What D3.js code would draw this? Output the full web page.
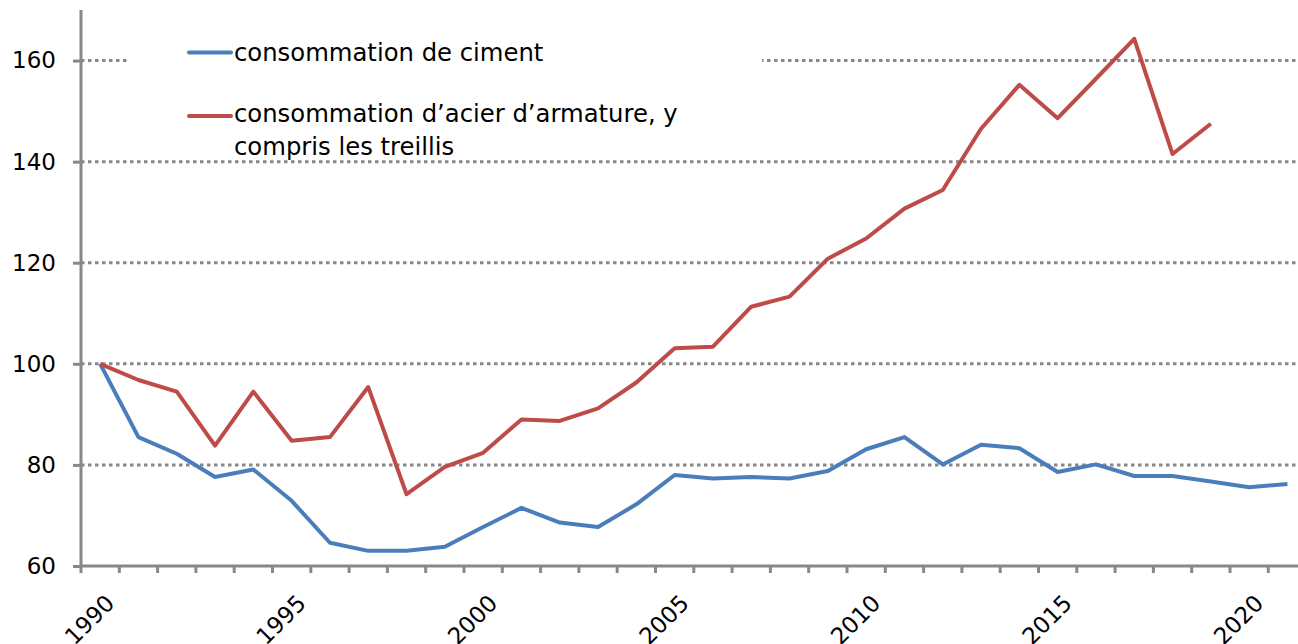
<!DOCTYPE html>
<html>
<head>
<meta charset="utf-8">
<script src="https://cdn.jsdelivr.net/npm/d3@7"></script>
<style>
  body { margin: 0; background: #fff; }
  svg { display: block; font-family: "DejaVu Sans", Verdana, sans-serif; }
</style>
</head>
<body>
<div id="chart"></div>
<script>
// years on the category axis
const years = d3.range(1990, 2022)
const labelYears = [1990, 1995, 2000, 2005, 2010, 2015, 2020]
const yTicks = [60, 80, 100, 120, 140, 160]

// index 1990 = 100
const ciment = [100, 85.5, 82.2, 77.6, 79.1, 72.9, 64.6, 63.0, 63.0, 63.8,
    67.7, 71.5, 68.6, 67.7, 72.2, 78.0, 77.3, 77.6, 77.3, 78.8,
    83.1, 85.5, 80.1, 84.0, 83.3, 78.6, 80.1, 77.8, 77.8, 76.7,
    75.6, 76.2]
const acier = [100, 96.8, 94.5, 83.8, 94.5, 84.8, 85.5, 95.4, 74.2, 79.6,
    82.4, 89.0, 88.7, 91.2, 96.3, 103.1, 103.4, 111.3, 113.3, 120.8,
    124.8, 130.7, 134.4, 146.5, 155.2, 148.6, 156.4, 164.3, 141.5, 147.5,
    null, null]

const seriesNames = ['consommation de ciment', 'consommation d\u2019acier d\u2019armature, y', 'compris les treillis']
const colors = { ciment: '#4a7ebb', acier: '#be4b48' }

let fullWidth = 1298
let fullHeight = 644
var margin = { top: 10, left: 81, bottom: 78 }
const font = '"DejaVu Sans", Verdana, sans-serif'

var svg = d3.select('#chart')
    .append('svg')
    .attr('width', fullWidth)
    .attr('height', fullHeight)

var x = d3.scaleBand()
    .domain(years)
    .range([margin.left, margin.left + years.length * 38.3])

var y = d3.scaleLinear()
    .domain([60, 170])
    .range([fullHeight - margin.bottom, margin.top])

const axisColor = '#888'

// dotted gridlines
svg.append('g')
    .selectAll('line')
    .data(yTicks.filter(d => d > 60))
    .enter()
    .append('line')
    .attr('x1', margin.left)
    .attr('x2', fullWidth)
    .attr('y1', d => y(d))
    .attr('y2', d => y(d))
    .attr('stroke', axisColor)
    .attr('stroke-width', 3)
    .attr('stroke-dasharray', '3.5,3.5')

// y axis
var yAxis = svg.append('g')
    .attr('transform', 'translate(' + margin.left + ',0)')
    .call(d3.axisLeft(y).tickValues(yTicks).tickSize(8).tickPadding(17))
    .attr('font-family', font)
    .attr('font-size', 23)
yAxis.select('.domain')
    .attr('d', 'M0,' + y(170) + 'V' + y(60))
yAxis.selectAll('.domain, .tick line')
    .attr('stroke', axisColor)
    .attr('stroke-width', 3)
yAxis.selectAll('.tick text')
    .attr('fill', '#000')

// x axis: ticks sit between the categories
var xAxis = svg.append('g')
    .attr('transform', 'translate(0,' + y(60) + ')')
xAxis.append('line')
    .attr('x1', margin.left)
    .attr('x2', fullWidth)
    .attr('stroke', axisColor)
    .attr('stroke-width', 3)
xAxis.selectAll('.tk')
    .data(years)
    .enter()
    .append('line')
    .attr('class', 'tk')
    .attr('x1', d => x(d))
    .attr('x2', d => x(d))
    .attr('y1', 0)
    .attr('y2', 7)
    .attr('stroke', axisColor)
    .attr('stroke-width', 3)
xAxis.selectAll('.lbl')
    .data(labelYears)
    .enter()
    .append('text')
    .attr('class', 'lbl')
    .attr('transform', d => 'translate(' + (x(d) + x.bandwidth() / 2 + 10) + ',33) rotate(-45)')
    .attr('text-anchor', 'end')
    .attr('dy', '0.35em')
    .attr('font-size', 23)
    .text(d => d)

// white legend box hides the gridline behind it
svg.append('rect')
    .attr('x', 130)
    .attr('y', 28)
    .attr('width', 632)
    .attr('height', 122)
    .attr('fill', '#fff')

var line = d3.line()
    .defined(d => d.v != null)
    .x(d => x(d.year) + x.bandwidth() / 2)
    .y(d => y(d.v))

function draw(values, color) {
    svg.append('path')
        .datum(years.map((yr, i) => ({ year: yr, v: values[i] })))
        .attr('fill', 'none')
        .attr('stroke', color)
        .attr('stroke-width', 4)
        .attr('stroke-linejoin', 'round')
        .attr('d', line)
}
draw(ciment, colors.ciment)
draw(acier, colors.acier)

// legend
var legend = svg.append('g').attr('font-size', 24.3)
legend.append('line')
    .attr('x1', 189).attr('x2', 231)
    .attr('y1', 52.5).attr('y2', 52.5)
    .attr('stroke', colors.ciment).attr('stroke-width', 4).attr('stroke-linecap', 'round')
legend.append('text').attr('x', 234).attr('y', 61).text(seriesNames[0])
legend.append('line')
    .attr('x1', 189).attr('x2', 231)
    .attr('y1', 116).attr('y2', 116)
    .attr('stroke', colors.acier).attr('stroke-width', 4).attr('stroke-linecap', 'round')
legend.append('text').attr('x', 234).attr('y', 122).text(seriesNames[1])
legend.append('text').attr('x', 234).attr('y', 155).text(seriesNames[2])
</script>
</body>
</html>
